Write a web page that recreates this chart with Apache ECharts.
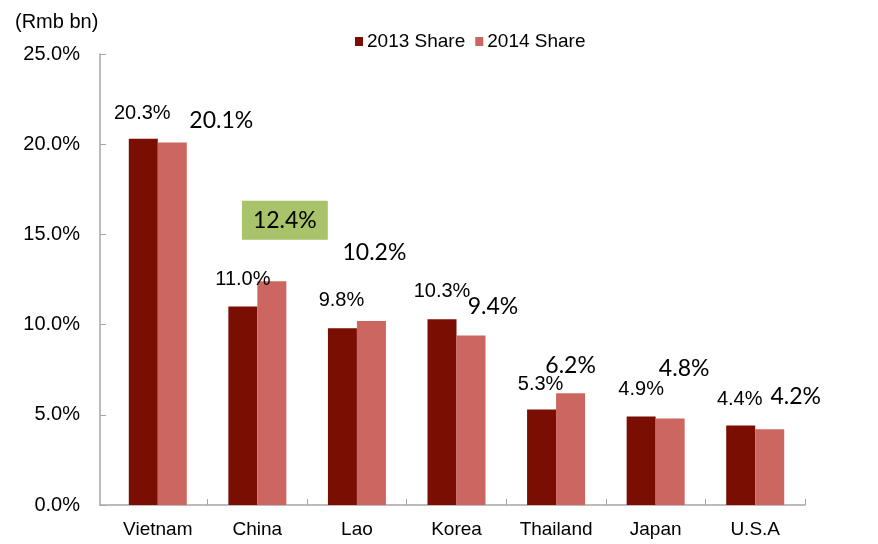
<!DOCTYPE html>
<html>
<head>
<meta charset="utf-8">
<script src="https://cdn.jsdelivr.net/npm/echarts@6/dist/echarts.min.js"></script>
<style>html,body{margin:0;padding:0;background:#fff}#c{width:878px;height:544px}</style>
</head>
<body>
<div id="c"></div>
<script>
const categories = ['Vietnam', 'China', 'Lao', 'Korea', 'Thailand', 'Japan', 'U.S.A'];
const share2013 = [20.3, 11.0, 9.8, 10.3, 5.3, 4.9, 4.4];
const share2014 = [20.1, 12.4, 10.2, 9.4, 6.2, 4.8, 4.2];
const seriesNames = ['2013 Share', '2014 Share'];
const unitLabel = '(Rmb bn)';

// label layout (style only)
const shift2013 = [[-1,-25],[0,-27],[-1,-28],[0,-28],[-1,-25],[0,-27],[-1,-26]];
const shift2014 = [[49,-22],[13,-61],[3,-68],[22,-29],[0,-28],[14,-50],[26,-33]];
const highlightIndex2014 = 1;

const fmt = v => v.toFixed(1) + '%';
const axisGray = '#A6A6A6';

const data2013 = share2013.map((v, i) => ({
  value: v,
  label: { offset: shift2013[i] }
}));
const data2014 = share2014.map((v, i) => {
  const item = { value: v, label: { offset: shift2014[i] } };
  if (i === highlightIndex2014) {
    item.label.backgroundColor = '#A8C36A';
    item.label.padding = [8, 11, 8, 11];
  }
  return item;
});

const chart = echarts.init(document.getElementById('c'), null, { renderer: 'canvas' });
chart.setOption({
  animation: false,
  backgroundColor: '#fff',
  title: {
    text: unitLabel, left: 10, top: 7,
    textStyle: { fontFamily: 'Liberation Sans', fontSize: 20, fontWeight: 'normal', color: '#000' }
  },
  legend: {
    data: seriesNames, left: 350, top: 27, icon: 'rect', itemWidth: 8, itemHeight: 9, itemGap: 10,
    textStyle: { fontFamily: 'Liberation Sans', fontSize: 19, color: '#000', padding: [0, 0, 0, -1] }
  },
  grid: [
    { left: 108, right: 73, top: 54, bottom: 39 },
    { left: 100, right: 73, top: 54, bottom: 39 }
  ],
  xAxis: [
    {
      type: 'category', data: categories, gridIndex: 0,
      axisLine: { show: false },
      axisTick: { show: true, inside: true, length: 6, interval: (i) => i !== 0, lineStyle: { color: axisGray } },
      axisLabel: { margin: 15, fontFamily: 'Liberation Sans', fontSize: 19, color: '#000' }
    },
    {
      type: 'value', gridIndex: 1, min: 0, max: 1, show: true,
      axisLine: { show: true, lineStyle: { color: axisGray, width: 1.5 } },
      axisTick: { show: false }, axisLabel: { show: false }, splitLine: { show: false }
    }
  ],
  yAxis: [
    {
      type: 'value', gridIndex: 0, min: 0, max: 25, interval: 5, offset: 8,
      axisLine: { show: true, lineStyle: { color: axisGray, width: 1.5 } },
      axisTick: { show: true, inside: true, length: 6, lineStyle: { color: axisGray } },
      splitLine: { show: false },
      axisLabel: { margin: 20, formatter: fmt, fontFamily: 'Liberation Sans', fontSize: 20, color: '#000' }
    },
    { type: 'value', gridIndex: 1, show: false, min: 0, max: 1 }
  ],
  series: [
    {
      name: seriesNames[0], type: 'bar', xAxisIndex: 0, yAxisIndex: 0,
      data: data2013, barWidth: 29, barGap: '0%',
      itemStyle: { color: '#7A0E02' },
      label: {
        show: true, position: 'top', distance: 0, align: 'center', verticalAlign: 'middle',
        formatter: p => fmt(p.value),
        fontFamily: 'Liberation Sans', fontSize: 20, color: '#000'
      }
    },
    {
      name: seriesNames[1], type: 'bar', xAxisIndex: 0, yAxisIndex: 0,
      data: data2014, barWidth: 29, barGap: '0%',
      itemStyle: { color: '#CC6660' },
      label: {
        show: true, position: 'top', distance: 0, align: 'center', verticalAlign: 'middle',
        formatter: p => fmt(p.value),
        fontFamily: 'Lato', fontSize: 23, color: '#000'
      }
    }
  ]
});
</script>
</body>
</html>
